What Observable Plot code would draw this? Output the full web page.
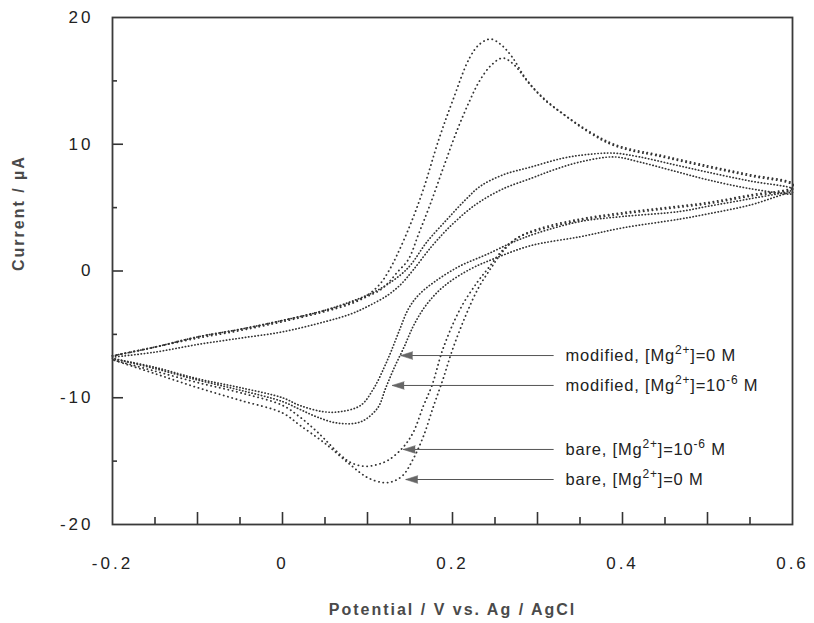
<!DOCTYPE html>
<html><head><meta charset="utf-8">
<script src="https://cdn.jsdelivr.net/npm/d3@7"></script>
<script src="https://cdn.jsdelivr.net/npm/@observablehq/plot@0.6"></script>
<style>
body{margin:0;background:#fff;}
#chart svg{display:block;}
.cv g[aria-label="x-axis tick label"] text, .cv g[aria-label="y-axis tick label"] text{letter-spacing:3px;}
.cv g.ann text{letter-spacing:0.8px;}
.cv g.ttl text{letter-spacing:2px;}
</style></head><body><div id="chart"></div>
<script>
// ---- axis ticks ----
const xTickLabels = [-0.2, 0, 0.2, 0.4, 0.6];
const xMajorTicks = [-0.1, 0, 0.1, 0.2, 0.3, 0.4, 0.5];
const xMinorTicks = [-0.15, -0.05, 0.05, 0.15, 0.25, 0.35, 0.45, 0.55];
const yTickLabels = [20, 10, 0, -10, -20];
const yMajorTicks = [10, 0, -10];
const yMinorTicks = [15, 5, -5, -15];

// ---- series: bare electrode, [Mg2+] = 0 M ----
const bare0FwdE = [-0.2,-0.15,-0.1,-0.05,0,0.05,0.08,0.1,0.115,0.125,0.135,0.15,0.165,0.184,0.2,0.22,0.232,0.245,0.258,0.27,0.285,0.3,0.32,0.347,0.374,0.39,0.41,0.44,0.5,0.55,0.6];
const bare0FwdI = [-6.7,-6.0,-5.2,-4.6,-3.9,-3.1,-2.5,-1.9,-1.0,0.0,1.3,3.6,6.3,10.4,13.4,16.8,17.9,18.3,17.8,16.9,15.3,14.1,12.9,11.6,10.5,10.0,9.6,9.2,8.3,7.6,6.9];
const bare0RevE = [0.6,0.55,0.5,0.45,0.4,0.35,0.3,0.276,0.26,0.245,0.23,0.215,0.2,0.189,0.178,0.166,0.154,0.142,0.13,0.119,0.1,0.08,0.05,0.021,0,-0.05,-0.1,-0.15,-0.2];
const bare0RevI = [6.6,6.0,5.4,5.0,4.6,4.1,3.3,2.6,1.6,0.2,-1.4,-3.6,-6.2,-8.5,-10.6,-13.0,-14.8,-16.1,-16.6,-16.7,-16.3,-15.3,-13.6,-12.2,-11.2,-10.2,-9.2,-8.1,-7.0];

// ---- series: bare electrode, [Mg2+] = 1e-6 M ----
const bare6FwdE = [-0.2,-0.15,-0.1,-0.05,0,0.05,0.08,0.1,0.115,0.125,0.135,0.148,0.16,0.174,0.19,0.206,0.22,0.231,0.245,0.259,0.272,0.29,0.31,0.33,0.35,0.374,0.39,0.41,0.44,0.5,0.55,0.6];
const bare6FwdI = [-6.7,-6.0,-5.3,-4.7,-4.0,-3.2,-2.6,-2.0,-1.5,-0.9,-0.1,0.9,2.9,5.3,8.3,11.2,13.4,14.9,16.2,16.8,16.3,14.8,13.4,12.4,11.4,10.4,9.9,9.5,9.1,8.2,7.5,6.8];
const bare6RevE = [0.6,0.55,0.5,0.45,0.4,0.35,0.3,0.276,0.257,0.243,0.229,0.209,0.189,0.176,0.166,0.154,0.142,0.125,0.11,0.095,0.08,0.068,0.041,0.02,0,-0.05,-0.1,-0.15,-0.2];
const bare6RevI = [6.5,5.9,5.3,4.9,4.5,4.0,3.2,2.6,1.5,0.3,-0.9,-3.0,-6.1,-9.0,-10.6,-12.7,-13.9,-14.9,-15.3,-15.4,-15.1,-14.5,-12.7,-11.5,-10.6,-9.6,-8.8,-7.9,-7.0];

// ---- series: modified electrode, [Mg2+] = 0 M ----
const mod0FwdE = [-0.2,-0.15,-0.1,-0.05,0,0.05,0.1,0.12,0.139,0.151,0.17,0.194,0.215,0.233,0.26,0.292,0.33,0.36,0.39,0.42,0.46,0.5,0.55,0.6];
const mod0FwdI = [-6.7,-6.0,-5.2,-4.6,-3.9,-3.1,-1.9,-1.2,-0.3,0.5,2.3,4.1,5.6,6.7,7.6,8.2,8.9,9.2,9.3,9.0,8.4,7.8,7.1,6.5];
const mod0RevE = [0.6,0.55,0.5,0.468,0.4,0.35,0.3,0.272,0.24,0.209,0.18,0.16,0.148,0.138,0.128,0.119,0.107,0.092,0.068,0.048,0.02,0,-0.05,-0.1,-0.15,-0.2];
const mod0RevI = [6.4,5.7,5.1,4.7,4.3,3.9,3.0,2.3,1.3,0.4,-0.8,-1.9,-3.0,-4.6,-6.3,-7.7,-9.3,-10.6,-11.1,-11.1,-10.6,-10.0,-9.2,-8.5,-7.6,-6.9];

// ---- series: modified electrode, [Mg2+] = 1e-6 M ----
const mod6FwdE = [-0.2,-0.15,-0.1,-0.05,0,0.05,0.08,0.1,0.124,0.14,0.154,0.175,0.194,0.215,0.233,0.26,0.292,0.32,0.35,0.39,0.42,0.46,0.5,0.55,0.6];
const mod6FwdI = [-6.8,-6.4,-5.8,-5.3,-4.8,-4.0,-3.4,-2.8,-1.9,-1.0,0.1,1.9,3.3,4.6,5.5,6.5,7.3,8.0,8.6,9.0,8.6,7.9,7.2,6.5,6.1];
const mod6RevE = [0.6,0.55,0.5,0.468,0.4,0.35,0.292,0.25,0.221,0.19,0.17,0.155,0.143,0.131,0.121,0.112,0.092,0.065,0.04,0.02,0,-0.05,-0.1,-0.15,-0.2];
const mod6RevI = [6.2,5.2,4.5,4.1,3.4,2.7,2.0,1.0,0.15,-1.2,-2.6,-4.2,-6.0,-7.7,-9.3,-10.8,-11.9,-12.0,-11.5,-10.9,-10.3,-9.4,-8.6,-7.7,-6.9];

// ---- annotations ----
const annLabels = ["modified, [Mg^{2+}]=0 M", "modified, [Mg^{2+}]=10^{-6} M", "bare, [Mg^{2+}]=10^{-6} M", "bare, [Mg^{2+}]=0 M"];
const annCurrent = [-6.67, -9.03, -14.08, -16.45];
const annTipE = [0.139, 0.129, 0.142, 0.145];
const annLineEndE = 0.319;
const annTextE = 0.333;

const xTitle = "Potential / V vs. Ag / AgCl";
const yTitle = "Current / µA";

// ---- build tables ----
function loop(name, kind, fE, fI, rE, rI) {
  const rows = [];
  fE.forEach((e, i) => rows.push({series: name, kind, E: e, I: fI[i]}));
  rE.forEach((e, i) => rows.push({series: name, kind, E: e, I: rI[i]}));
  return rows;
}
const bareRows = [
  ...loop("bare0", "bare", bare0FwdE, bare0FwdI, bare0RevE, bare0RevI),
  ...loop("bare6", "bare", bare6FwdE, bare6FwdI, bare6RevE, bare6RevI)
];
const modRows = [
  ...loop("mod0", "mod", mod0FwdE, mod0FwdI, mod0RevE, mod0RevI),
  ...loop("mod6", "mod", mod6FwdE, mod6FwdI, mod6RevE, mod6RevI)
];
const annRows = annLabels.map((l, i) => ({label: l, I: annCurrent[i], tip: annTipE[i], end: annLineEndE, tx: annTextE}));

const frameH = 623 - 17 - 99;
const frameW = 814 - 112 - 22;

const chart = Plot.plot({
  width: 814, height: 623,
  marginLeft: 112, marginRight: 22, marginTop: 17, marginBottom: 99,
  className: "cv",
  style: {fontFamily: "'Liberation Sans', Arial, Helvetica, sans-serif", fontSize: "17px", background: "#fff", color: "#222"},
  x: {domain: [-0.2, 0.6], label: null},
  y: {domain: [-20, 20], label: null},
  marks: [
    Plot.line(modRows, {x: "E", y: "I", z: "series", curve: "catmull-rom", stroke: "#333", strokeWidth: 1.7, strokeLinecap: "round", strokeDasharray: "0.3,2.9"}),
    Plot.line(bareRows, {x: "E", y: "I", z: "series", curve: "catmull-rom", stroke: "#333", strokeWidth: 1.8, strokeLinecap: "round", strokeDasharray: "0.2,4.2"}),
    Plot.tickX(xMajorTicks, {x: d => d, insetTop: frameH - 12, stroke: "#333", strokeWidth: 1.6}),
    Plot.tickX(xMinorTicks, {x: d => d, insetTop: frameH - 7, stroke: "#333", strokeWidth: 1.6}),
    Plot.tickY(yMajorTicks, {y: d => d, insetRight: frameW - 11, stroke: "#333", strokeWidth: 1.6}),
    Plot.tickY(yMinorTicks, {y: d => d, insetRight: frameW - 5, stroke: "#333", strokeWidth: 1.6}),
    Plot.frame({stroke: "#3a3a3a", strokeWidth: 1.8}),
    Plot.axisX({ticks: xTickLabels, tickSize: 0, tickPadding: 32, tickFormat: d => String(d), fontSize: 17, label: null}),
    Plot.axisY({ticks: yTickLabels, tickSize: 0, tickPadding: 19, tickFormat: d => String(d), fontSize: 17, label: null}),
    Plot.link(annRows, {x1: "tip", x2: "end", y1: "I", y2: "I", stroke: "#555", strokeWidth: 1}),
    Plot.vector(annRows, {x: "tip", y: "I", rotate: -90, length: 12, r: 3.8, shape: "spike", anchor: "end", fill: "#666", stroke: "#666", strokeWidth: 0.6}),
    Plot.text(annRows, {x: "tx", y: "I", text: "label", textAnchor: "start", fontSize: 16.5, fill: "#222", className: "ann"}),
    Plot.text([xTitle], {text: d => d, frameAnchor: "bottom", dy: 90, fontSize: 16, fontWeight: "bold", fill: "#4a4a4a", className: "ttl"}),
    Plot.text([yTitle], {text: d => d, frameAnchor: "left", dx: -94, rotate: -90, fontSize: 16, fontWeight: "bold", fill: "#4a4a4a", className: "ttl"})
  ]
});
document.getElementById("chart").appendChild(chart);

// superscripts: turn ^{...} into raised tspans (text stays real text)
const NS = "http://www.w3.org/2000/svg";
chart.querySelectorAll("text").forEach(t => {
  const s = t.textContent;
  if (!s.includes("^{")) return;
  t.textContent = "";
  const parts = s.split(/(\^\{[^}]*\})/).filter(p => p.length);
  let raised = false;
  parts.forEach(p => {
    const ts = document.createElementNS(NS, "tspan");
    if (p.startsWith("^{")) {
      ts.textContent = p.slice(2, -1);
      ts.setAttribute("font-size", "12");
      ts.setAttribute("dy", raised ? "0" : "-6.5");
      raised = true;
    } else {
      ts.textContent = p;
      if (raised) { ts.setAttribute("dy", "6.5"); raised = false; }
    }
    t.appendChild(ts);
  });
});
</script>
</body></html>
